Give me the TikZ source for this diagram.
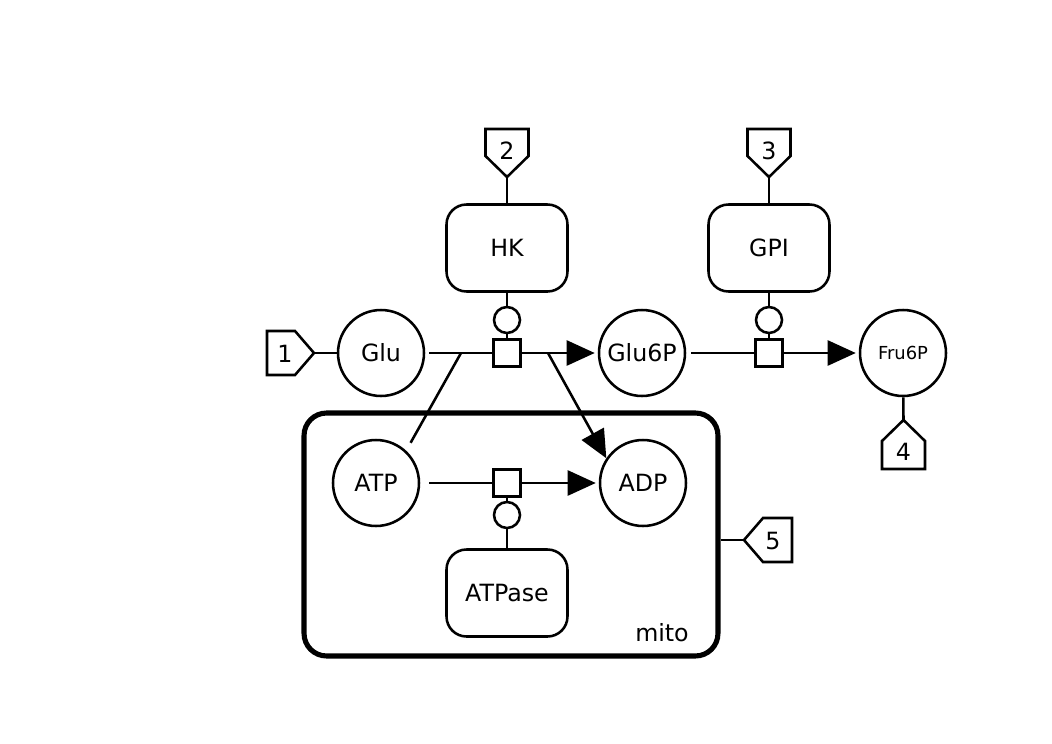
\documentclass[tikz,border=0pt]{standalone}
\usepackage{fontspec}
\setmainfont{DejaVu Sans}
\usetikzlibrary{arrows.meta}

\begin{document}
\begin{tikzpicture}[x=0.02cm,y=-0.02cm,line width=1.45pt,
    >={Triangle[length=0.56cm,width=0.5cm]},
    species/.style={circle,draw,minimum size=1.72cm,inner sep=0pt,font=\fontsize{13.5}{16}\selectfont},
    enzyme/.style={draw,rounded corners=0.4cm,minimum width=2.42cm,minimum height=1.74cm,font=\fontsize{13.5}{16}\selectfont},
    proc/.style={draw,minimum size=0.54cm,inner sep=0pt},
    modul/.style={circle,draw,minimum size=0.52cm,inner sep=0pt},
    tagtxt/.style={inner sep=0pt,font=\fontsize{13.5}{16}\selectfont},
    compart/.style={draw,line width=2.9pt,rounded corners=0.45cm,minimum width=8.28cm,minimum height=4.86cm}]
  \useasboundingbox (0,0) rectangle (1052,744);
  % compartment
  \node[compart] (mito) at (511,534.5) {};
  \node[font=\fontsize{13.5}{16}\selectfont] (mitolbl) at (662,633) {mito};
  % species
  \node[species] (Glu) at (381,353) {Glu};
  \node[species] (Glu6P) at (642,353) {Glu6P};
  \node[species,font=\fontsize{10.2}{12}\selectfont] (Fru6P) at (903,353) {Fru6P};
  \node[species] (ATP) at (376,483) {ATP};
  \node[species] (ADP) at (643,483) {ADP};
  % enzymes
  \node[enzyme] (HK) at (507,248) {HK};
  \node[enzyme] (GPI) at (769,248) {GPI};
  \node[enzyme] (ATPase) at (507,593) {ATPase};
  % processes and modulators
  \node[proc] (pr1) at (507,353) {};
  \node[proc] (pr2) at (769,353) {};
  \node[proc] (pr3) at (507,483) {};
  \node[modul] (m1) at (507,320) {};
  \node[modul] (m2) at (769,320) {};
  \node[modul] (m3) at (507,515) {};
  \coordinate (j1) at (461,353);
  \coordinate (j2) at (548,353);
  % tags
  \draw (267,331) -- (295,331) -- (314,353) coordinate (tag1tip) -- (295,375) -- (267,375) -- cycle;
  \node[tagtxt] (tag1) at (285,354) {1};
  \draw (485.5,129) -- (528.5,129) -- (528.5,156) -- (507,177) coordinate (tag2tip) -- (485.5,156) -- cycle;
  \node[tagtxt] (tag2) at (507,151) {2};
  \draw (747.5,129) -- (790.5,129) -- (790.5,156) -- (769,177) coordinate (tag3tip) -- (747.5,156) -- cycle;
  \node[tagtxt] (tag3) at (769,151) {3};
  \draw (882,469) -- (925,469) -- (925,441) -- (903.5,420) coordinate (tag4tip) -- (882,441) -- cycle;
  \node[tagtxt] (tag4) at (903.5,452) {4};
  \draw (792,518) -- (792,562) -- (763,562) -- (744,540) coordinate (tag5tip) -- (763,518) -- cycle;
  \node[tagtxt] (tag5) at (773,541) {5};
  % connectors
  \draw (tag1tip) -- (Glu.west);
  \draw[shorten <=0.08cm] (Glu) -- (pr1);
  \draw[shorten <=0.18cm] (ATP.47) -- (j1);
  \draw[->,shorten >=0.06cm] (pr1) -- (Glu6P);
  \draw[->] (j2) -- (ADP.146);
  \draw (tag2tip) -- (HK);
  \draw (HK) -- (m1);
  \draw (m1) -- (pr1);
  \draw[shorten <=0.1cm] (Glu6P) -- (pr2);
  \draw[->,shorten >=0.06cm] (pr2) -- (Fru6P);
  \draw (tag3tip) -- (GPI);
  \draw (GPI) -- (m2);
  \draw (m2) -- (pr2);
  \draw (Fru6P) -- (tag4tip);
  \draw[shorten <=0.18cm] (ATP) -- (pr3);
  \draw[->,shorten >=0.06cm] (pr3) -- (ADP);
  \draw (pr3) -- (m3);
  \draw (m3) -- (ATPase);
  \draw (mito.east |- tag5tip) -- (tag5tip);
\end{tikzpicture}
\end{document}
